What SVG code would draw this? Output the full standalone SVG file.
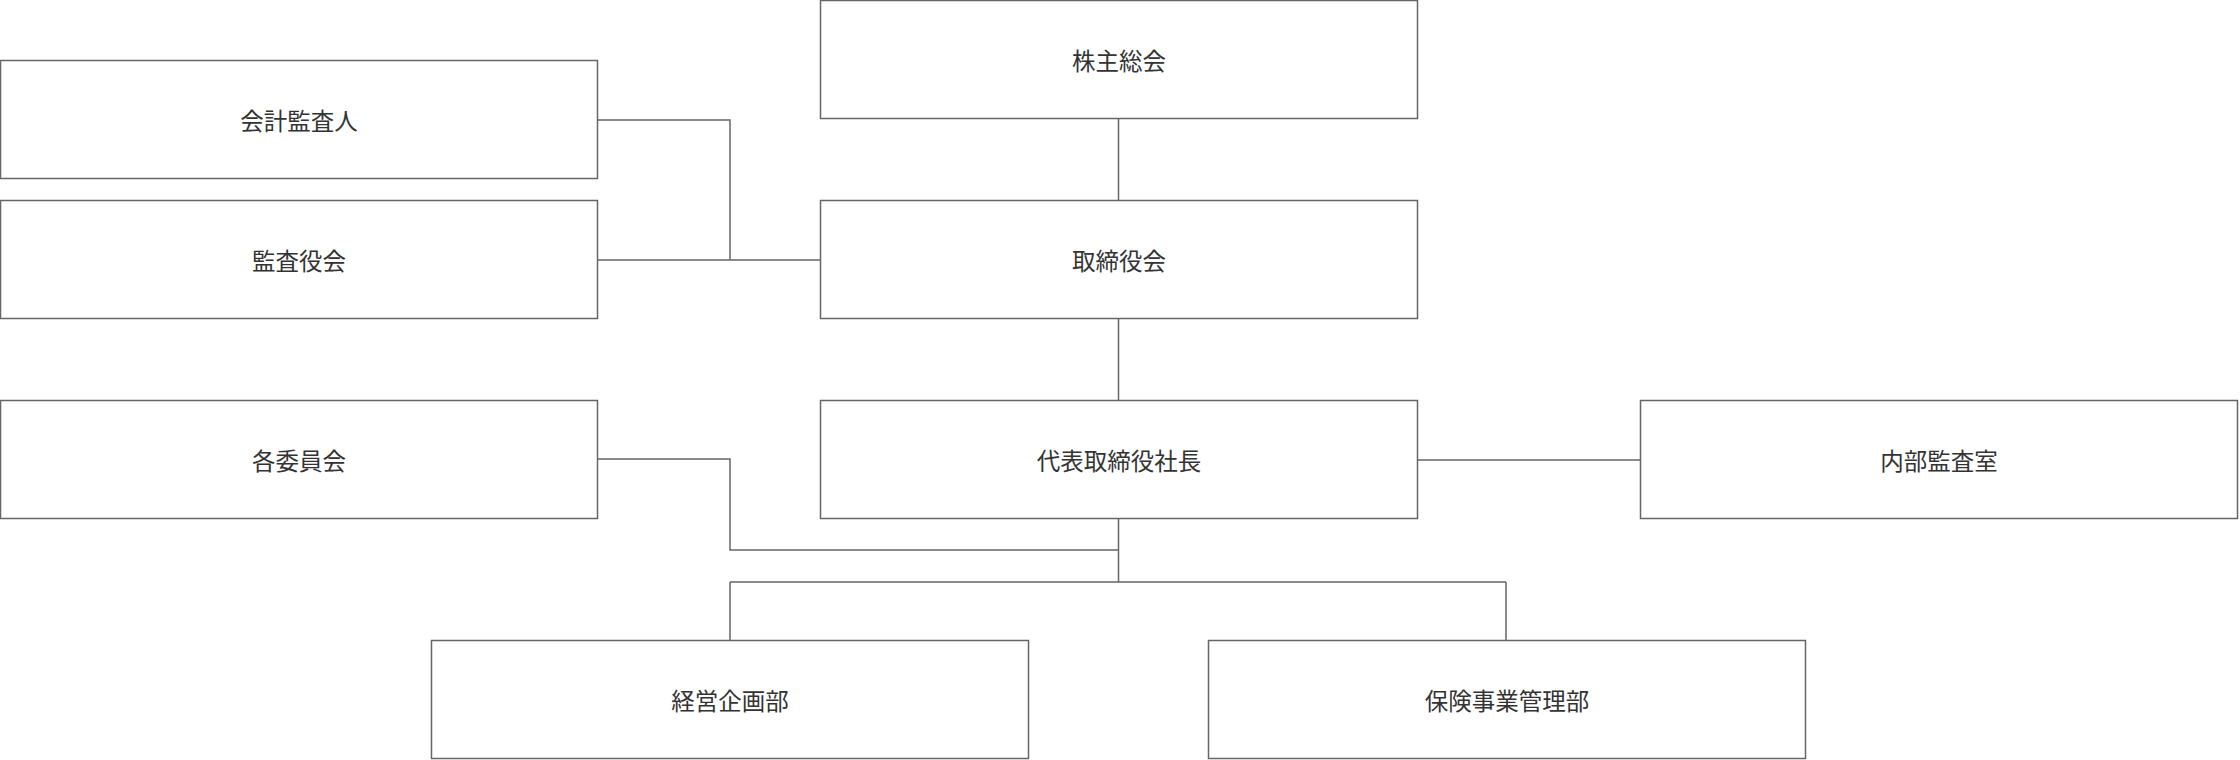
<svg xmlns="http://www.w3.org/2000/svg" width="2240" height="760" viewBox="0 0 2240 760">
<style>
rect{fill:#fff;stroke:#666;stroke-width:1.5}
text{font-family:"Noto Sans CJK JP",sans-serif;font-size:23.5px;fill:#333;text-anchor:middle;dominant-baseline:central}
.c{fill:none;stroke:#666;stroke-width:1.5}
</style>
<rect x="0" y="0" width="2240" height="760" style="stroke:none"/>
<g id="connectors">
<path class="c" d="M1118.5 119V200M597 120H730V260M597 260H820M1118.5 318V400M1417 460H1640M597 459H730V550H1118.5M1118.5 517V582M730 582H1506M730 582V640M1506 582V640"/>
</g>
<g id="n1"><rect x="820.5" y="0.5" width="597" height="118"/><text x="1119" y="60">株主総会</text></g>
<g id="n2"><rect x="0.5" y="60.5" width="597" height="118"/><text x="299" y="120">会計監査人</text></g>
<g id="n3"><rect x="0.5" y="200.5" width="597" height="118"/><text x="299" y="260">監査役会</text></g>
<g id="n4"><rect x="820.5" y="200.5" width="597" height="118"/><text x="1119" y="260">取締役会</text></g>
<g id="n5"><rect x="0.5" y="400.5" width="597" height="118"/><text x="299" y="460">各委員会</text></g>
<g id="n6"><rect x="820.5" y="400.5" width="597" height="118"/><text x="1119" y="460">代表取締役社長</text></g>
<g id="n7"><rect x="1640.5" y="400.5" width="597" height="118"/><text x="1939" y="460">内部監査室</text></g>
<g id="n8"><rect x="431.5" y="640.5" width="597" height="118"/><text x="730" y="700">経営企画部</text></g>
<g id="n9"><rect x="1208.5" y="640.5" width="597" height="118"/><text x="1507" y="700">保険事業管理部</text></g>
</svg>
